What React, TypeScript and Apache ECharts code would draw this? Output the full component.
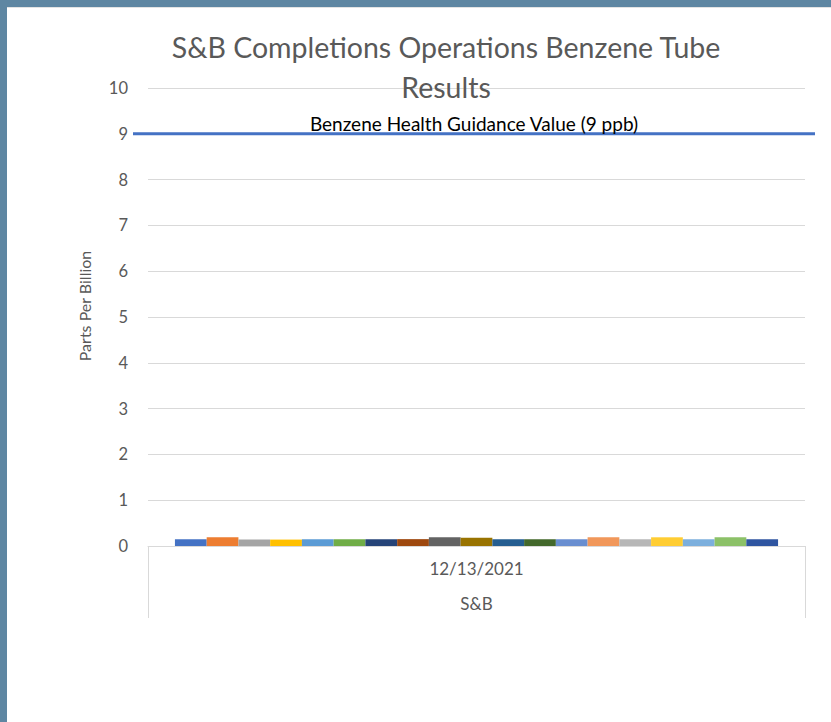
import React, { useEffect, useRef } from "react";
import * as echarts from "echarts";

const categories = ["12/13/2021"];
const groupLabels = ["S&B"];
const seriesNames = [
  "Tube 1", "Tube 2", "Tube 3", "Tube 4", "Tube 5", "Tube 6", "Tube 7", "Tube 8", "Tube 9", "Tube 10",
  "Tube 11", "Tube 12", "Tube 13", "Tube 14", "Tube 15", "Tube 16", "Tube 17", "Tube 18", "Tube 19",
];
const seriesValues = [
  0.15, 0.19, 0.14, 0.14, 0.15, 0.15, 0.15, 0.15, 0.19, 0.18,
  0.15, 0.15, 0.15, 0.19, 0.15, 0.19, 0.15, 0.19, 0.15,
];
const seriesColors = [
  "#4472C4", "#ED7D31", "#A5A5A5", "#FFC000", "#5B9BD5", "#70AD47", "#264478", "#9E480E", "#636363", "#997300",
  "#255E91", "#43682B", "#698ED0", "#F1975A", "#B7B7B7", "#FFCD33", "#7CAFDD", "#8CC168", "#2F55A0",
];
const guidanceValue = 9;
const guidanceLabel = "Benzene Health Guidance Value (9 ppb)";
const titleText = "S&B Completions Operations Benzene Tube\nResults";
const yAxisName = "Parts Per Billion";

const FONT = "Lato, 'Noto Sans', sans-serif";

export default function App() {
  const ref = useRef<HTMLDivElement>(null);
  useEffect(() => {
    if (!ref.current) return;
    const chart = echarts.init(ref.current, undefined, { renderer: "svg" });
    const barSeries = seriesNames.map((name, i) => ({
      name,
      type: "bar",
      xAxisIndex: 0,
      yAxisIndex: 0,
      data: [seriesValues[i]],
      itemStyle: { color: seriesColors[i] },
      barGap: "0%",
      barCategoryGap: "8.2%",
    }));
    chart.setOption({
      animation: false,
      backgroundColor: "#ffffff",
      textStyle: { fontFamily: FONT },
      title: {
        text: titleText,
        left: 441,
        textAlign: "center",
        top: 22,
        textStyle: { fontFamily: FONT, fontSize: 28.5, fontWeight: "normal", color: "#595959", lineHeight: 40 },
      },
      grid: [
        { left: 148, right: 26, top: 88, bottom: 176, containLabel: false },
        { left: 133, right: 16, top: 88, bottom: 176, containLabel: false },
      ],
      xAxis: [
        {
          type: "category",
          gridIndex: 0,
          data: categories,
          axisLine: { show: true, lineStyle: { color: "#d9d9d9", width: 1 } },
          axisTick: { show: true, length: 72, lineStyle: { color: "#d9d9d9" } },
          axisLabel: { color: "#595959", fontSize: 17, margin: 14, fontFamily: FONT },
        },
        {
          type: "category",
          gridIndex: 0,
          position: "bottom",
          offset: 35,
          data: groupLabels,
          axisLine: { show: false },
          axisTick: { show: false },
          axisLabel: { color: "#595959", fontSize: 17, margin: 14, fontFamily: FONT },
        },
        {
          type: "value",
          gridIndex: 1,
          min: 0,
          max: 1,
          show: false,
        },
      ],
      yAxis: [
        {
          type: "value",
          gridIndex: 0,
          min: 0,
          max: 10,
          interval: 1,
          name: yAxisName,
          nameLocation: "middle",
          nameGap: 56,
          nameTextStyle: { color: "#595959", fontSize: 16, fontFamily: FONT, padding: [0, 0, 0, 22] },
          axisLine: { show: false },
          axisTick: { show: false },
          axisLabel: { color: "#595959", fontSize: 16.5, margin: 20, fontFamily: FONT },
          splitLine: { lineStyle: { color: "#d9d9d9", width: 1 } },
        },
        {
          type: "value",
          gridIndex: 1,
          min: 0,
          max: 10,
          show: false,
        },
      ],
      series: [
        ...barSeries,
        {
          name: "Guidance",
          type: "line",
          xAxisIndex: 2,
          yAxisIndex: 1,
          symbol: "circle",
          symbolSize: 0,
          showSymbol: true,
          lineStyle: { color: "#4472C4", width: 3 },
          itemStyle: { color: "#4472C4" },
          label: {
            show: true,
            position: "top",
            distance: 1,
            formatter: (p: any) => (p.dataIndex === 1 ? guidanceLabel : ""),
            color: "#000000",
            fontSize: 19,
            fontFamily: FONT,
          },
          data: [
            [0, guidanceValue],
            [0.5, guidanceValue],
            [1, guidanceValue],
          ],
        },
      ],
      graphic: [
        { type: "rect", left: 0, top: 0, shape: { width: 831, height: 7 }, style: { fill: "#5E86A2" }, silent: true },
        { type: "rect", left: 0, top: 0, shape: { width: 7, height: 722 }, style: { fill: "#5E86A2" }, silent: true },
        { type: "line", shape: { x1: 7, y1: 7.5, x2: 831, y2: 7.5 }, style: { stroke: "#e3e3e3", lineWidth: 1 }, silent: true },
      ],
    });
    return () => chart.dispose();
  }, []);
  return (
    <div
      ref={ref}
      style={{ position: "fixed", left: 0, top: 0, width: 831, height: 722, background: "#ffffff" }}
    />
  );
}
